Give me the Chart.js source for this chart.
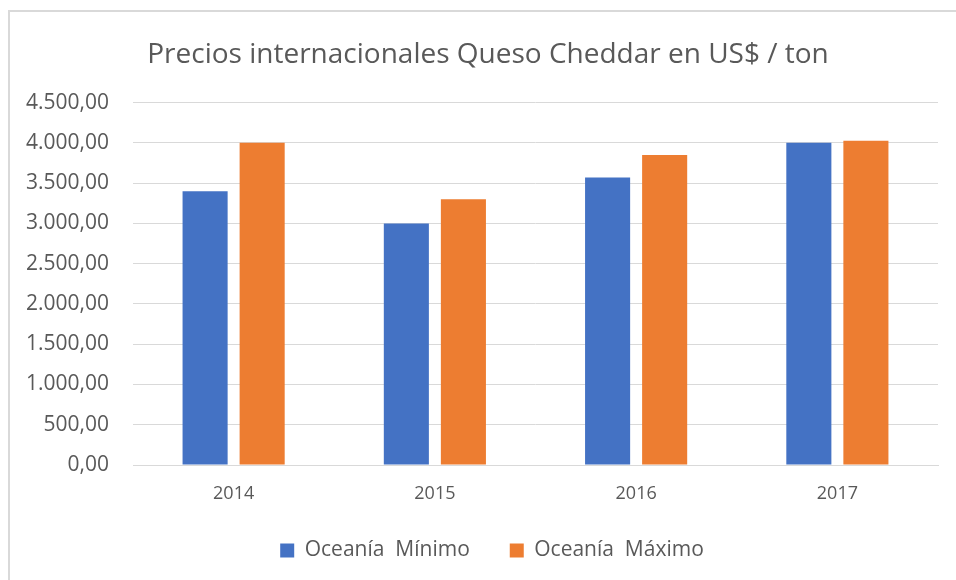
<!DOCTYPE html>
<html>
<head>
<meta charset="utf-8">
<script src="https://cdn.jsdelivr.net/npm/chart.js@4.4.0/dist/chart.umd.min.js"></script>
<style>
  html, body { margin: 0; padding: 0; background: #ffffff; }
  #wrap { position: relative; width: 956px; height: 580px; overflow: hidden; background: #fff; }
  #frame { position: absolute; left: 8px; top: 10px; width: 1000px; height: 1000px;
           border-left: 2px solid #d9d9d9; border-top: 2px solid #d9d9d9; box-sizing: border-box; }
  canvas { position: absolute; left: 0; top: 0; }
</style>
</head>
<body>
<div id="wrap">
  <div id="frame"></div>
  <canvas id="c" width="956" height="580"></canvas>
</div>
<script>
const categories = ["2014", "2015", "2016", "2017"];
const seriesNames = ["Oceanía  Mínimo", "Oceanía  Máximo"];
const minimo = [3400, 3000, 3570, 4000];
const maximo = [4000, 3300, 3850, 4025];
const yTicks = [0, 500, 1000, 1500, 2000, 2500, 3000, 3500, 4000, 4500];
const titleText = "Precios internacionales Queso Cheddar en US$ / ton";

const regular = "'Open Sans', 'Noto Sans', sans-serif";
const textColor = "#595959";

function fmt(v) {
  const parts = v.toFixed(2).split(".");
  parts[0] = parts[0].replace(/\B(?=(\d{3})+(?!\d))/g, ".");
  return parts[0] + "," + parts[1];
}

const centerShift = {
  id: "centerShift",
  afterLayout(chart) {
    if (chart.legend) { chart.legend.left += 23; chart.legend.right += 23; }
    if (chart.titleBlock) { chart.titleBlock.left += 19; chart.titleBlock.right += 19; }
  }
};

new Chart(document.getElementById("c"), {
  type: "bar",
  data: {
    labels: categories,
    datasets: [
      { label: seriesNames[0], data: minimo, backgroundColor: "#4472C4", categoryPercentage: 0.567, barPercentage: 0.79 },
      { label: seriesNames[1], data: maximo, backgroundColor: "#ED7D31", categoryPercentage: 0.567, barPercentage: 0.79 }
    ]
  },
  plugins: [centerShift],
  options: {
    responsive: false,
    animation: false,
    layout: { padding: { top: 20, right: 18, bottom: 9, left: 0 } },
    plugins: {
      title: {
        display: true,
        text: titleText,
        color: textColor,
        font: { family: regular, size: 28, weight: "normal" },
        padding: { top: 18, bottom: 31 }
      },
      legend: {
        position: "bottom",
        labels: {
          color: textColor,
          font: { family: regular, size: 21 },
          boxWidth: 14,
          boxHeight: 14,
          padding: 40
        }
      },
      tooltip: { enabled: false }
    },
    scales: {
      x: {
        grid: { display: false, drawTicks: false },
        border: { display: true, color: "#d9d9d9", width: 1 },
        ticks: { color: textColor, font: { family: regular, size: 18 }, padding: 18 },
        afterFit: (s) => { s.height = 35; }
      },
      y: {
        min: 0, max: 4500,
        afterBuildTicks: (s) => { s.ticks = yTicks.map(v => ({ value: v })); },
        grid: { color: "#d9d9d9", lineWidth: 1, drawTicks: false },
        border: { display: false },
        ticks: { color: textColor, font: { family: regular, size: 21 }, padding: 24, callback: (v) => fmt(v) },
        afterFit: (s) => { s.width = 133; }
      }
    }
  }
});
</script>
</body>
</html>
